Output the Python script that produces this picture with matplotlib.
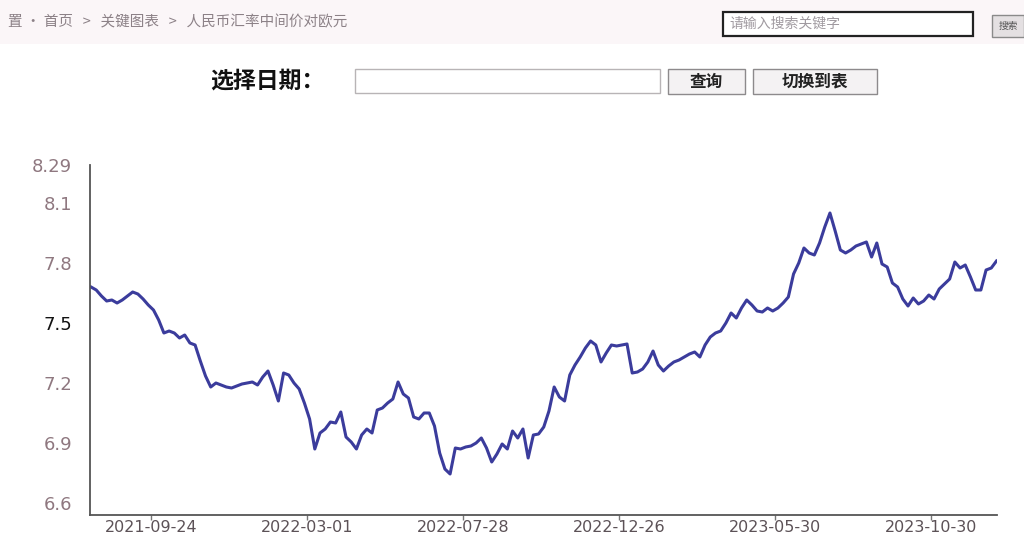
import matplotlib
matplotlib.use("Agg")
import matplotlib.pyplot as plt
from matplotlib.patches import Rectangle
import numpy as np

plt.rcParams['font.family'] = ['DejaVu Sans', 'Noto Sans CJK SC']
CJK = ['Noto Sans CJK SC', 'DejaVu Sans']

# 人民币汇率中间价对欧元 (roughly every 3 trading days)
rates = [
    7.68, 7.665, 7.635, 7.61, 7.615, 7.60, 7.615, 7.635, 7.655, 7.645,
    7.62, 7.59, 7.565, 7.515, 7.45, 7.46, 7.45, 7.425, 7.44, 7.40,
    7.39, 7.31, 7.235, 7.18, 7.20, 7.19, 7.18, 7.175, 7.185, 7.195,
    7.20, 7.205, 7.19, 7.23, 7.26, 7.19, 7.11, 7.25, 7.24, 7.20,
    7.17, 7.10, 7.02, 6.87, 6.95, 6.97, 7.005, 7.00, 7.055, 6.93,
    6.905, 6.87, 6.94, 6.97, 6.95, 7.065, 7.075, 7.10, 7.12, 7.205,
    7.145, 7.125, 7.03, 7.02, 7.05, 7.05, 6.985, 6.85, 6.77, 6.745,
    6.875, 6.87, 6.88, 6.885, 6.90, 6.925, 6.875, 6.805, 6.845, 6.895,
    6.87, 6.96, 6.925, 6.97, 6.825, 6.94, 6.945, 6.98, 7.06, 7.18,
    7.13, 7.11, 7.24, 7.29, 7.33, 7.375, 7.41, 7.39, 7.305, 7.35,
    7.39, 7.385, 7.39, 7.395, 7.25, 7.255, 7.27, 7.305, 7.36, 7.29,
    7.26, 7.285, 7.305, 7.315, 7.33, 7.345, 7.355, 7.33, 7.39, 7.43,
    7.45, 7.46, 7.50, 7.55, 7.525, 7.575, 7.615, 7.59, 7.56, 7.555,
    7.575, 7.56, 7.575, 7.60, 7.63, 7.745, 7.80, 7.875, 7.85, 7.84,
    7.90, 7.98, 8.05, 7.96, 7.865, 7.85, 7.865, 7.885, 7.895, 7.905,
    7.83, 7.90, 7.795, 7.78, 7.70, 7.68, 7.62, 7.585, 7.625, 7.595,
    7.61, 7.64, 7.62, 7.67, 7.695, 7.72, 7.805, 7.775, 7.79, 7.73,
    7.665, 7.665, 7.765, 7.775, 7.81,
]
date_labels = ["2021-09-24", "2022-03-01", "2022-07-28", "2022-12-26", "2023-05-30", "2023-10-30"]
date_pos = [11.5, 41.5, 71.5, 101.5, 131.5, 161.5]
y_ticks = [6.6, 6.9, 7.2, 7.5, 7.8, 8.1, 8.29]

W, H = 1024, 538
fig = plt.figure(figsize=(W / 100, H / 100), dpi=100)


def fx(x):
    return x / W


def fy(y):
    return 1 - y / H


# --- page header ---
fig.patches.append(Rectangle((0, fy(44)), 1, 44 / H, transform=fig.transFigure,
                             facecolor='#fbf6f8', edgecolor='none', zorder=0))
fig.text(fx(8), fy(22), "置 · 首页   >   关键图表   >   人民币汇率中间价对欧元",
         family=CJK, fontsize=10.5, color='#8c8187', va='center')
fig.patches.append(Rectangle((fx(723), fy(36)), 250 / W, 24 / H, transform=fig.transFigure,
                             facecolor='white', edgecolor='#222222', lw=1.6))
fig.text(fx(729), fy(24), "请输入搜索关键字", family=CJK, fontsize=10, color='#a09aa0', va='center')
fig.patches.append(Rectangle((fx(992), fy(37)), 32 / W, 22 / H, transform=fig.transFigure,
                             facecolor='#e4e0e2', edgecolor='#8a8a8a', lw=1))
fig.text(fx(1008), fy(26), "搜索", family=CJK, fontsize=7, color='#555555', ha='center', va='center')

fig.text(fx(210), fy(81), "选择日期：", family=CJK, fontsize=16.5, fontweight='bold',
         color='#111111', va='center')
fig.patches.append(Rectangle((fx(355), fy(93)), 305 / W, 24 / H, transform=fig.transFigure,
                             facecolor='white', edgecolor='#b8b4b6', lw=1))
fig.patches.append(Rectangle((fx(668), fy(94)), 77 / W, 25 / H, transform=fig.transFigure,
                             facecolor='#f4f2f3', edgecolor='#8d8a8c', lw=1))
fig.text(fx(706), fy(82), "查询", family=CJK, fontsize=12, fontweight='bold',
         color='#222222', ha='center', va='center')
fig.patches.append(Rectangle((fx(753), fy(94)), 124 / W, 25 / H, transform=fig.transFigure,
                             facecolor='#f4f2f3', edgecolor='#8d8a8c', lw=1))
fig.text(fx(815), fy(82), "切换到表", family=CJK, fontsize=12, fontweight='bold',
         color='#222222', ha='center', va='center')

# --- chart ---
ax = fig.add_axes([fx(90), fy(515), (997 - 90) / W, (515 - 165) / H])
x = np.arange(len(rates))
ax.plot(x, rates, color='#3b3c9c', linewidth=2.2, solid_joinstyle='round')

ax.set_xlim(-0.2, 174.1)
ax.set_ylim(6.54, 8.29)
ax.set_yticks(y_ticks)
ax.set_yticklabels([f"{v:g}" for v in y_ticks])
ax.set_xticks(date_pos)
ax.set_xticklabels(date_labels)

for s in ['top', 'right']:
    ax.spines[s].set_visible(False)
for s in ['left', 'bottom']:
    ax.spines[s].set_color('#555555')
    ax.spines[s].set_linewidth(1.3)

ax.tick_params(axis='y', length=0, pad=13, labelsize=13, labelcolor='#8f7880')
ax.tick_params(axis='x', length=3.5, width=1, color='#777777', pad=0, labelsize=11.5,
               labelcolor='#5c5257')
for lab in ax.get_yticklabels():
    if lab.get_text() == '7.5':
        lab.set_color('#111111')

fig.savefig("out.png", dpi=100, facecolor='white')
